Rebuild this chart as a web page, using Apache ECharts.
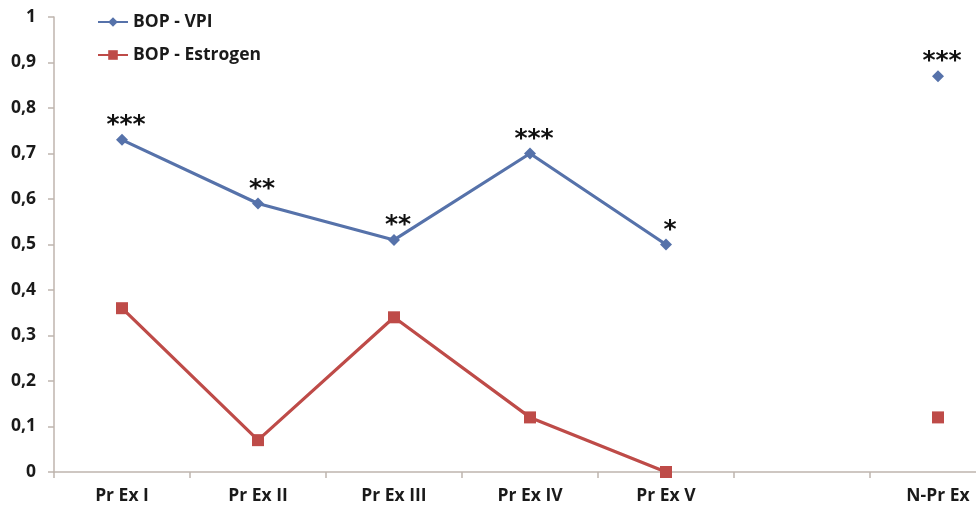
<!DOCTYPE html>
<html><head><meta charset="utf-8">
<script src="https://cdn.jsdelivr.net/npm/echarts@6/dist/echarts.min.js"></script>
<style>html,body{margin:0;padding:0;background:#fff;overflow:hidden;width:976px;height:512px}#c{width:1010px;height:512px}</style>
</head><body><div id="c"></div>
<script>
const categories = ['Pr Ex I','Pr Ex II','Pr Ex III','Pr Ex IV','Pr Ex V','','N-Pr Ex'];
const vpi = [0.73, 0.59, 0.51, 0.70, 0.50, null, 0.87];
const estrogen = [0.36, 0.07, 0.34, 0.12, 0.00, null, 0.12];
const vpiSig = ['***','**','**','***','*','','***'];
const yTicks = [0,0.1,0.2,0.3,0.4,0.5,0.6,0.7,0.8,0.9,1];

const chart = echarts.init(document.getElementById('c'));
const axisGray = '#BFB5AE';
chart.setOption({
  animation:false,
  textStyle:{fontFamily:'Open Sans'},
  legend:{
    orient:'vertical', left:92, top:8, itemGap:15, itemWidth:30, itemHeight:12,
    textStyle:{fontSize:17.5, fontWeight:'bold', color:'#1a1a1a', fontFamily:'Open Sans'},
    data:['BOP - VPI','BOP - Estrogen']
  },
  grid:{left:54, right:4, top:17, bottom:40, containLabel:false},
  xAxis:{
    type:'category', data:categories, boundaryGap:true,
    axisLine:{lineStyle:{color:axisGray, width:1.5}},
    axisTick:{show:true, length:6, lineStyle:{color:axisGray, width:1.5}},
    axisLabel:{fontSize:17.5, fontWeight:'bold', color:'#1a1a1a', margin:15, interval:0}
  },
  yAxis:{
    type:'value', min:0, max:1, interval:0.1,
    splitLine:{show:false},
    axisLine:{show:true, lineStyle:{color:axisGray, width:1.5}},
    axisTick:{show:true, length:6, lineStyle:{color:axisGray, width:1.5}},
    axisLabel:{fontSize:17.5, fontWeight:'bold', color:'#1a1a1a', margin:18,
      formatter:v=>{const t=yTicks.find(x=>Math.abs(x-v)<1e-9); return (t===undefined? v : t).toString().replace('.',',');}}
  },
  series:[
    {name:'BOP - VPI', type:'line', data:vpi, connectNulls:false,
     symbol:'diamond', symbolSize:12,
     itemStyle:{color:'#5672AA'}, lineStyle:{color:'#5672AA', width:3.2},
     label:{show:true, position:'top', distance:-4, fontSize:25, fontWeight:'bold', color:'#111', fontFamily:'DejaVu Sans',
       offset:[4,0], formatter:p=>vpiSig[p.dataIndex]}
    },
    {name:'BOP - Estrogen', type:'line', data:estrogen, connectNulls:false,
     symbol:'rect', symbolSize:12,
     itemStyle:{color:'#BE4B48'}, lineStyle:{color:'#BE4B48', width:3.2}
    }
  ]
});
</script></body></html>
